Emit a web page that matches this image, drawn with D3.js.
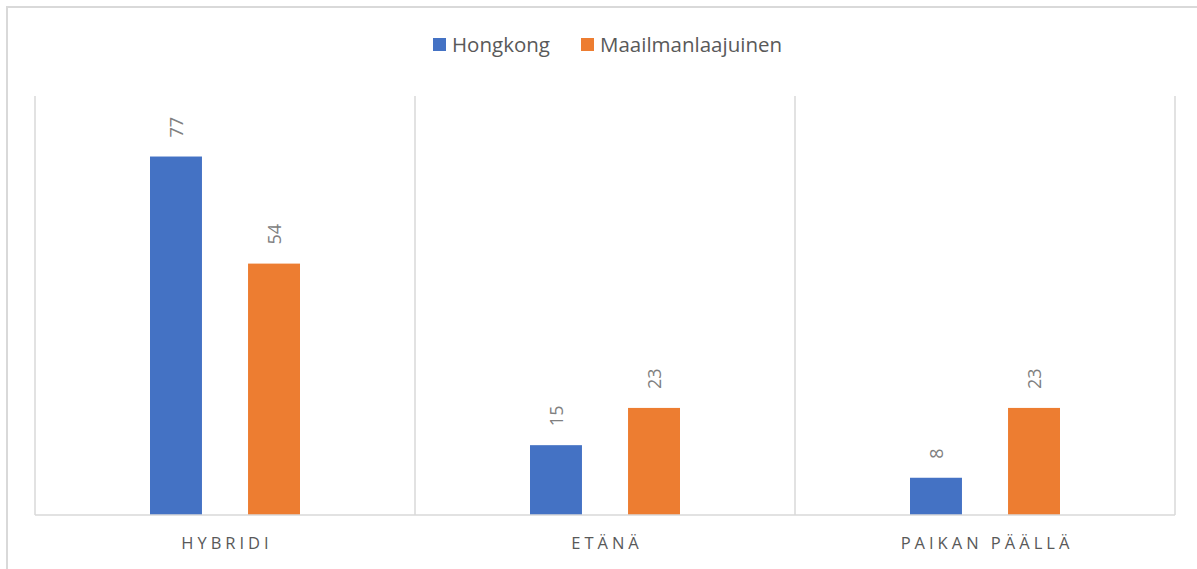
<!DOCTYPE html>
<html>
<head>
<meta charset="utf-8">
<script src="https://cdn.jsdelivr.net/npm/d3@7"></script>
<style>
  body { margin: 0; background: #fff; }
  svg { display: block; font-family: "Open Sans", sans-serif; }
</style>
</head>
<body>
<svg width="1197" height="569"></svg>
<script>
const categories = ['HYBRIDI', 'ETÄNÄ', 'PAIKAN PÄÄLLÄ'];
const seriesNames = ['Hongkong', 'Maailmanlaajuinen'];
const hongkong = [77, 15, 8];
const maailmanlaajuinen = [54, 23, 23];
const colors = ['#4472c4', '#ed7d31'];

const svg = d3.select('svg');

// outer chart border
svg.append('rect')
  .attr('x', 7).attr('y', 7)
  .attr('width', 1197).attr('height', 580)
  .attr('fill', 'none')
  .attr('stroke', '#d9d9d9')
  .attr('stroke-width', 2);

const margin = { top: 96, left: 35, right: 22, bottom: 54 },
  width = 1197 - margin.left - margin.right,
  height = 569 - margin.top - margin.bottom;

const g = svg.append('g').attr('transform', `translate(${margin.left}, ${margin.top})`);

const x = d3.scaleBand().domain(categories).range([0, width]);
const x1 = d3.scaleBand().domain(seriesNames).range([x.bandwidth() / 2 - 75, x.bandwidth() / 2 + 75]).paddingInner(0.47);
const y = d3.scaleLinear().domain([0, 90]).range([height, 0]);

// category separators
const seps = [...categories.map(c => x(c)), width];
g.selectAll('.sep')
  .data(seps)
  .enter()
  .append('line')
  .attr('class', 'sep')
  .attr('x1', d => d).attr('x2', d => d)
  .attr('y1', 0).attr('y2', height)
  .attr('stroke', '#d9d9d9')
  .attr('stroke-width', 1.5);

const data = categories.map((c, i) => ({
  cat: c,
  vals: [
    { name: seriesNames[0], value: hongkong[i], color: colors[0] },
    { name: seriesNames[1], value: maailmanlaajuinen[i], color: colors[1] }
  ]
}));

const groups = g.selectAll('.grp')
  .data(data)
  .enter()
  .append('g')
  .attr('class', 'grp')
  .attr('transform', d => `translate(${x(d.cat)},0)`);

groups.selectAll('rect')
  .data(d => d.vals)
  .enter()
  .append('rect')
  .attr('x', d => x1(d.name))
  .attr('y', d => y(d.value))
  .attr('width', x1.bandwidth())
  .attr('height', d => height - y(d.value))
  .attr('fill', d => d.color);

groups.selectAll('.lbl')
  .data(d => d.vals)
  .enter()
  .append('text')
  .attr('class', 'lbl')
  .attr('transform', d => `translate(${x1(d.name) + x1.bandwidth() / 2 + 7},${y(d.value) - 19}) rotate(-90)`)
  .attr('fill', '#808080')
  .style('font-size', '18px')
  .text(d => d.value);

// x axis baseline
g.append('line')
  .attr('x1', 0).attr('x2', width)
  .attr('y1', height).attr('y2', height)
  .attr('stroke', '#d9d9d9')
  .attr('stroke-width', 1.5);

g.selectAll('.cat')
  .data(categories)
  .enter()
  .append('text')
  .attr('class', 'cat')
  .attr('x', d => x(d) + x.bandwidth() / 2 + 2)
  .attr('y', height + 34)
  .attr('text-anchor', 'middle')
  .attr('fill', '#595959')
  .style('font-size', '16.5px')
  .style('letter-spacing', '4px')
  .text(d => d);

// legend
const legend = svg.append('g');
const legendX = [433, 581];
seriesNames.forEach((s, i) => {
  legend.append('rect')
    .attr('x', legendX[i]).attr('y', 38)
    .attr('width', 13).attr('height', 13)
    .attr('fill', colors[i]);
  legend.append('text')
    .attr('x', legendX[i] + 19).attr('y', 51.5)
    .attr('fill', '#595959')
    .style('font-size', '20.5px')
    .text(s);
});
</script>
</body>
</html>
